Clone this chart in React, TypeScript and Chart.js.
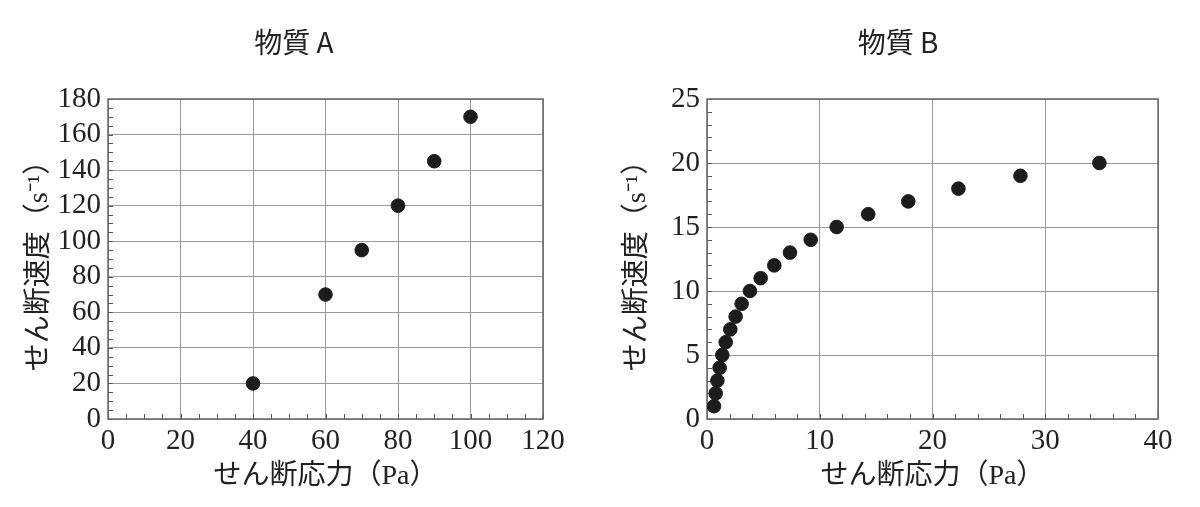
import { useEffect, useRef } from "react";
import Chart from "chart.js/auto";

// 物質 A: shear stress (Pa) vs shear rate (1/s)
const A_STRESS = [40, 60, 70, 80, 90, 100];
const A_RATE = [20, 70, 95, 120, 145, 170];

// 物質 B
const B_STRESS = [
  0.62, 0.77, 0.92, 1.12, 1.36, 1.66, 2.07, 2.54, 3.07, 3.81,
  4.76, 5.97, 7.36, 9.2, 11.5, 14.3, 17.85, 22.3, 27.8, 34.8,
];
const B_RATE = [1, 2, 3, 4, 5, 6, 7, 8, 9, 10, 11, 12, 13, 14, 15, 16, 17, 18, 19, 20];

const X_TITLE = "せん断応力（Pa）";
const Y_TITLE = "せん断速度（s⁻¹）";

const TICK_FONT = { family: "'Liberation Serif', 'DejaVu Serif', serif", size: 29, lineHeight: 1 };
const AXIS_FONT = { family: "'Liberation Serif', 'Noto Sans CJK JP', serif", size: 28, lineHeight: 1.2 };
const TITLE_FONT = {
  family: "'Noto Sans CJK JP', 'Liberation Sans', sans-serif",
  size: 28,
  weight: "normal" as const,
  lineHeight: 1.2,
};

type PanelProps = {
  left: number;
  title: string;
  xs: number[];
  ys: number[];
  xMax: number;
  xStep: number;
  xMinor: number;
  yMax: number;
  yStep: number;
  yMinor: number;
  padLeft: number;
  padRight: number;
  yAxisWidth: number;
  yTitlePad: number;
};

// inward minor ticks on left/bottom + the box frame
function framePlugin(xMinor: number, yMinor: number) {
  return {
    id: "frame",
    beforeDatasetsDraw(chart: Chart) {
      const { ctx, chartArea } = chart;
      const { left, right, top, bottom } = chartArea;
      const xs = chart.scales.x;
      const ys = chart.scales.y;
      ctx.save();
      ctx.strokeStyle = "#555";
      ctx.lineWidth = 1;
      ctx.beginPath();
      for (let i = 0; i * xMinor <= xs.max + 1e-9; i++) {
        const px = Math.round(xs.getPixelForValue(i * xMinor)) + 0.5;
        ctx.moveTo(px, bottom);
        ctx.lineTo(px, bottom - 5);
      }
      for (let i = 0; i * yMinor <= ys.max + 1e-9; i++) {
        const py = Math.round(ys.getPixelForValue(i * yMinor)) + 0.5;
        ctx.moveTo(left, py);
        ctx.lineTo(left + 5, py);
      }
      ctx.stroke();
      ctx.strokeStyle = "#666";
      ctx.lineWidth = 1.5;
      ctx.strokeRect(left, top, right - left, bottom - top);
      ctx.restore();
    },
  };
}

function ScatterPanel(p: PanelProps) {
  const canvasRef = useRef<HTMLCanvasElement | null>(null);

  useEffect(() => {
    if (!canvasRef.current) return;
    const chart = new Chart(canvasRef.current, {
      type: "scatter",
      data: {
        datasets: [
          {
            data: p.xs.map((x, i) => ({ x, y: p.ys[i] })),
            backgroundColor: "#1c1c1c",
            borderColor: "#1c1c1c",
            pointRadius: 6.8,
            pointHoverRadius: 6.8,
          },
        ],
      },
      options: {
        animation: false,
        responsive: true,
        maintainAspectRatio: false,
        layout: { padding: { left: p.padLeft, right: p.padRight, top: 0, bottom: 0 } },
        plugins: {
          legend: { display: false },
          tooltip: { enabled: false },
          title: {
            display: true,
            text: p.title,
            color: "#222",
            font: TITLE_FONT,
            padding: { top: 25.2, bottom: 40.2 },
          },
        },
        scales: {
          x: {
            type: "linear",
            min: 0,
            max: p.xMax,
            grid: { color: "#9a9a9a", lineWidth: 1, drawTicks: false },
            border: { display: false },
            ticks: {
              stepSize: p.xStep,
              autoSkip: false,
              maxRotation: 0,
              padding: 8,
              color: "#222",
              font: TICK_FONT,
            },
            title: {
              display: true,
              text: X_TITLE,
              color: "#222",
              font: AXIS_FONT,
              padding: { top: 0, bottom: 13.2 },
            },
            afterFit: (s: any) => {
              s.height = 88;
            },
          },
          y: {
            type: "linear",
            min: 0,
            max: p.yMax,
            grid: { color: "#9a9a9a", lineWidth: 1, drawTicks: false },
            border: { display: false },
            ticks: {
              stepSize: p.yStep,
              autoSkip: false,
              padding: 7,
              color: "#222",
              font: TICK_FONT,
            },
            title: {
              display: true,
              text: Y_TITLE,
              color: "#222",
              font: AXIS_FONT,
              padding: { top: p.yTitlePad, bottom: 0 },
            },
            afterFit: (s: any) => {
              s.width = p.yAxisWidth;
            },
          },
        },
      },
      plugins: [framePlugin(p.xMinor, p.yMinor)],
    });
    return () => chart.destroy();
  }, []);

  return (
    <div style={{ position: "absolute", left: p.left, top: 0, width: 600, height: 507 }}>
      <canvas ref={canvasRef} />
    </div>
  );
}

export default function App() {
  return (
    <div style={{ position: "absolute", left: 0, top: 0, width: 1200, height: 507, background: "#fff" }}>
      <ScatterPanel
        left={0}
        title="物質 A"
        xs={A_STRESS}
        ys={A_RATE}
        xMax={120}
        xStep={20}
        xMinor={5}
        yMax={180}
        yStep={20}
        yMinor={5}
        padLeft={45}
        padRight={57}
        yAxisWidth={63}
        yTitlePad={-21.8}
      />
      <ScatterPanel
        left={600}
        title="物質 B"
        xs={B_STRESS}
        ys={B_RATE}
        xMax={40}
        xStep={10}
        xMinor={2}
        yMax={25}
        yStep={5}
        yMinor={1}
        padLeft={38}
        padRight={42}
        yAxisWidth={69}
        yTitlePad={-16.8}
      />
    </div>
  );
}
